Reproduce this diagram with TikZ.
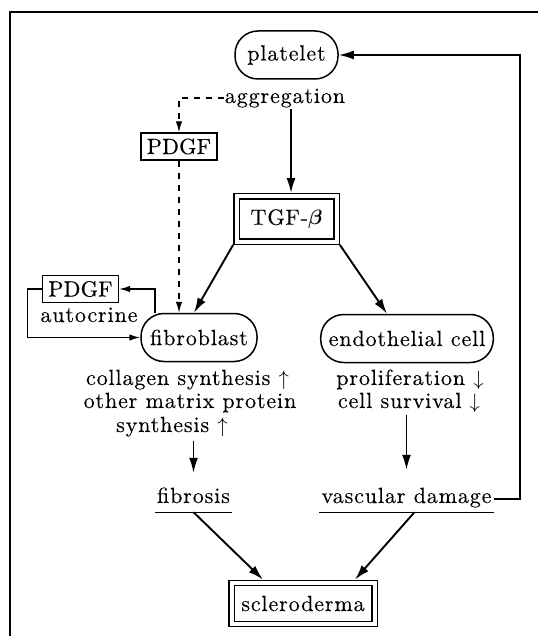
\documentclass[tikz,border=0pt]{standalone}
\usepackage{bm}
\usepackage{fontspec}
\setmainfont{lmroman10-regular.otf}[LetterSpace=4, FakeBold=0.2]
\usetikzlibrary{arrows.meta}
\begin{document}
\begin{tikzpicture}[x=1pt,y=-1pt,
  font=\fontsize{22}{26}\selectfont,
  lbl/.style={inner sep=1pt, anchor=base},
  pill/.style={draw, line width=1.5pt, rounded corners=23pt, minimum height=48pt, inner xsep=8pt},
  sbox/.style={draw, line width=1.4pt, minimum width=76pt, minimum height=27pt, inner sep=2pt,
    font=\fontsize{22}{26}\selectfont\addfontfeatures{LetterSpace=1}},
  dbox/.style={draw, line width=1.4pt, double, double distance=4pt, outer sep=3.4pt, inner sep=2pt},
  arr/.style={line width=1.9pt, -{Latex[length=15pt,width=9pt]}},
  sarr/.style={line width=1.3pt, -{Latex[length=11pt,width=6.5pt]}},
  dsh/.style={line width=1.4pt, dash pattern=on 6pt off 6pt, -{Latex[length=11pt,width=6.5pt]}},
  uline/.style={inner xsep=2pt, inner ysep=2pt, text height=15pt, text depth=7pt, anchor=base}
]
\useasboundingbox (0,0) rectangle (538,636);
\fill[white] (0,0) rectangle (538,636);
% frame
\draw[line width=1.4pt] (538,12) -- (10,12) -- (10,636);

% nodes
\node[pill, minimum width=103pt] (plt) at (286.5,55) {platelet};
\node[lbl] (agg) at (285,103) {aggregation};
\node[sbox] (pdgf1) at (179,146.5) {PDGF};
\node[dbox, minimum width=100pt, minimum height=45pt] (tgf) at (286.5,219) {TGF-$\bm{\beta}$};
\node[pill, minimum width=116pt] (fib) at (199,337.5) {fibroblast};
\node[pill, minimum width=172pt] (endo) at (407,338.5) {endothelial cell};
\node[sbox] (pdgf2) at (80.5,289) {PDGF};
\node[lbl] (auto) at (89,322) {autocrine};
\node[lbl] (col) at (187.5,385) {collagen synthesis $\uparrow$};
\node[lbl] (oth) at (190,408) {other matrix protein};
\node[lbl] (syn) at (172,432) {synthesis $\uparrow$};
\node[lbl] (pro) at (410,385) {proliferation $\downarrow$};
\node[lbl] (sur) at (409,408) {cell survival $\downarrow$};
\node[uline] (fibro) at (193.5,503) {fibrosis};
\node[uline] (vasc) at (406.5,503) {vascular damage};
\node[dbox, minimum width=143pt, minimum height=41pt] (scl) at (303,603.5) {scleroderma};

% underlines
\draw[line width=1.4pt] (fibro.south west) -- (fibro.south east);
\draw[line width=1.4pt] (vasc.south west) -- (vasc.south east);

% connectors
\draw[arr] ([xshift=4.5pt]tgf.north |- agg.south) -- ([xshift=4.5pt]tgf.north);
\draw[dsh] (agg.west) -| (pdgf1.north);
\draw[dsh] (pdgf1.south) -- (pdgf1.south |- fib.north);
\draw[arr] (tgf.south west) -- ([xshift=-5pt]fib.north);
\draw[arr] (tgf.south east) -- ([xshift=-20pt]endo.north);
\draw[sarr] ([xshift=-44pt]fib.north) |- (pdgf2.east);
\draw[sarr] (pdgf2.west) -- ++(-14,0) |- (fib.west);
\draw[arr, shorten <=3pt, shorten >=13pt] (fibro.north |- syn.south) -- (fibro.north);
\draw[arr, shorten <=2pt, shorten >=16pt] (vasc.north |- sur.south) -- (vasc.north);
\draw[arr] (vasc.east) -- ++(26,0) |- (plt.east);
\draw[arr] (fibro.south) -- ([xshift=-40pt]scl.north);
\draw[arr] ([xshift=8pt]vasc.south) -- ([xshift=52pt]scl.north);
\end{tikzpicture}
\end{document}
